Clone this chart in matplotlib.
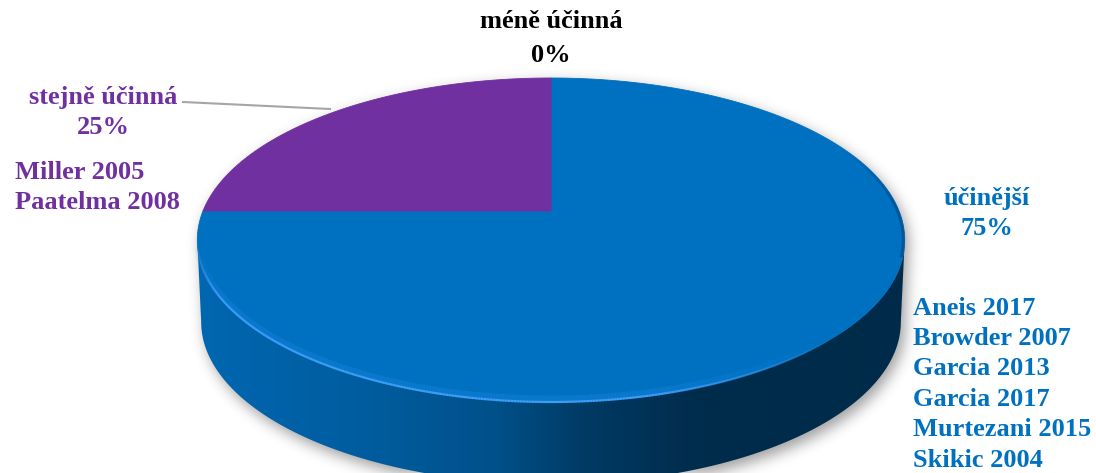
import numpy as np
import matplotlib
matplotlib.use("Agg")
import matplotlib.pyplot as plt
from matplotlib.path import Path
from matplotlib.patches import Polygon
from matplotlib.collections import LineCollection
from matplotlib.colors import to_rgb

# Podíl studií podle účinnosti
kategorie = ["účinější", "stejně účinná", "méně účinná"]
podily = [75, 25, 0]
barvy = ["#0070C0", "#7030A0", "#A5A5A5"]
studie_ucinnejsi = ["Aneis 2017", "Browder 2007", "Garcia 2013",
                    "Garcia 2017", "Murtezani 2015", "Skikic 2004"]
studie_stejne = ["Miller 2005", "Paatelma 2008"]

W, H = 1096, 473
fig = plt.figure(figsize=(W / 100, H / 100), dpi=100)
ax = fig.add_axes([0, 0, 1, 1])
ax.set_xlim(0, W)
ax.set_ylim(H, 0)
ax.axis("off")

# perspektivní průmět kruhu (u doprava, v dopředu) do obrázku
CX, P, R, S, T0 = 551.0, 348.0, -0.179, 119.04, 211.0
TLOUSTKA = 82.0
ZUZENI = 0.989


def projekce(u, v):
    d = 1 + R * v
    return CX + P * u / d, (S * v + T0) / d


def oblouk(a0, a1, n=200):
    th = np.radians(np.linspace(a0, a1, n))
    return projekce(np.sin(th), -np.cos(th))


def spodni(x, y):
    return CX + (x - CX) * ZUZENI, y + TLOUSTKA


def segmenty(x, y):
    return np.stack([np.column_stack([x[:-1], y[:-1]]),
                     np.column_stack([x[1:], y[1:]])], axis=1)


# úhly výsečí – začátek na 12 hodinách, po směru hodin
hranice = np.concatenate([[0], np.cumsum(podily)]) * 360.0 / sum(podily)

# tečné body obrysu (nejvíc vpravo / vlevo)
th_all = np.linspace(0, 360, 3601)
xs_all, _ = oblouk(0, 360, 3601)
tecna_p = th_all[np.argmax(xs_all[:1800])]
tecna_l = th_all[1800 + np.argmin(xs_all[1800:])]

# stín pod koláčem
xb, yb = spodni(*oblouk(tecna_p, tecna_l, 300))
xo, yo = oblouk(tecna_l, tecna_p + 360, 300)
obrys = np.column_stack([np.concatenate([xb, xo]), np.concatenate([yb, yo])])
gx, gy = np.meshgrid(np.arange(W) + 0.5, np.arange(H) + 0.5)
maska = Path(obrys + [4, 6]).contains_points(
    np.column_stack([gx.ravel(), gy.ravel()])).reshape(H, W).astype(float)
k = np.exp(-0.5 * (np.arange(-21, 22) / 7.0) ** 2)
k /= k.sum()
maska = np.apply_along_axis(lambda r: np.convolve(r, k, mode="same"), 1, maska)
maska = np.apply_along_axis(lambda c: np.convolve(c, k, mode="same"), 0, maska)
stin = np.zeros((H, W, 4))
stin[..., 3] = maska * 0.38
ax.imshow(stin, extent=(0, W, H, 0), zorder=1, interpolation="bilinear")

# boční stěna – jen přední část, stínovaná zleva doprava
profil_t = [0.0, 0.25, 0.42, 0.55, 0.7, 1.0]
profil_k = [0.92, 0.82, 0.72, 0.52, 0.40, 0.38]
for a0, a1, barva in zip(hranice[:-1], hranice[1:], barvy):
    lo, hi = max(a0, tecna_p), min(a1, tecna_l)
    if hi <= lo:
        continue
    x1, y1 = oblouk(lo, hi)
    x2, y2 = spodni(x1, y1)
    pts = np.column_stack([np.concatenate([x1, x2[::-1]]),
                           np.concatenate([y1, y2[::-1]])])
    stena = Polygon(pts, closed=True, facecolor="none", edgecolor="none", zorder=2)
    ax.add_patch(stena)
    t = np.linspace(0, 1, 400)
    kf = np.interp(t, profil_t, profil_k)
    grad = np.ones((1, 400, 4))
    grad[0, :, :3] = np.outer(kf, to_rgb(barva))
    im = ax.imshow(grad, extent=(xs_all.min(), xs_all.max(),
                                 pts[:, 1].max(), pts[:, 1].min()),
                   aspect="auto", zorder=2, interpolation="bilinear")
    im.set_clip_path(stena)

# horní plocha
cx0, cy0 = projekce(0, 0)
for a0, a1, barva in zip(hranice[:-1], hranice[1:], barvy):
    if a1 - a0 <= 0:
        continue
    x, y = oblouk(a0, a1)
    pts = np.column_stack([np.concatenate([[cx0], x]), np.concatenate([[cy0], y])])
    ax.add_patch(Polygon(pts, closed=True, facecolor=barva, edgecolor=barva,
                         lw=0.6, zorder=3))

# tmavší okraj vpravo na horní ploše
xe, ye = oblouk(65, tecna_p + 6, 120)
seg = segmenty(xe - 1.5, ye)
alfa = np.interp(np.arange(len(seg)), [0, len(seg) * 0.5, len(seg)], [0, 0.4, 0.45])
ax.add_collection(LineCollection(seg, colors=[(0, 0.2, 0.4, a) for a in alfa],
                                 linewidths=2.2, zorder=4))

# světlá hrana na přední straně, k okrajům slábne
xr, yr = oblouk(135, tecna_l - 2, 300)
seg = segmenty(xr, yr)
n = len(seg)
alfa = np.interp(np.arange(n), [0, n * 0.25, n * 0.85, n], [0, 1, 1, 0])
ax.add_collection(LineCollection(seg - [0, 3], colors=[(0.1, 0.53, 0.9, 0.35 * a) for a in alfa],
                                 linewidths=5, zorder=4))
ax.add_collection(LineCollection(seg, colors=[(0.24, 0.62, 0.96, a) for a in alfa],
                                 linewidths=1.6, zorder=4))

# popisky
font = dict(family=["Liberation Serif", "DejaVu Serif"], weight="bold", size=19)

ax.text(551, 22, kategorie[2], ha="center", va="center", color="black", **font)
ax.text(551, 55, f"{podily[2]}%", ha="center", va="center", color="black", **font)

ax.text(103, 97, kategorie[1], ha="center", va="center", color=barvy[1], **font)
ax.text(103, 127, f"{podily[1]}%", ha="center", va="center", color=barvy[1], **font)
for i, s in enumerate(studie_stejne):
    ax.text(15, 172 + 30.4 * i, s, ha="left", va="center", color=barvy[1], **font)
ax.plot([183, 330], [102, 109], color="#A6A6A6", lw=1.5, zorder=5)

ax.text(987, 198, kategorie[0], ha="center", va="center", color=barvy[0], **font)
ax.text(987, 228, f"{podily[0]}%", ha="center", va="center", color=barvy[0], **font)
for i, s in enumerate(studie_ucinnejsi):
    ax.text(913, 308 + 30.4 * i, s, ha="left", va="center", color=barvy[0], **font)

fig.savefig("out.png", dpi=100)
